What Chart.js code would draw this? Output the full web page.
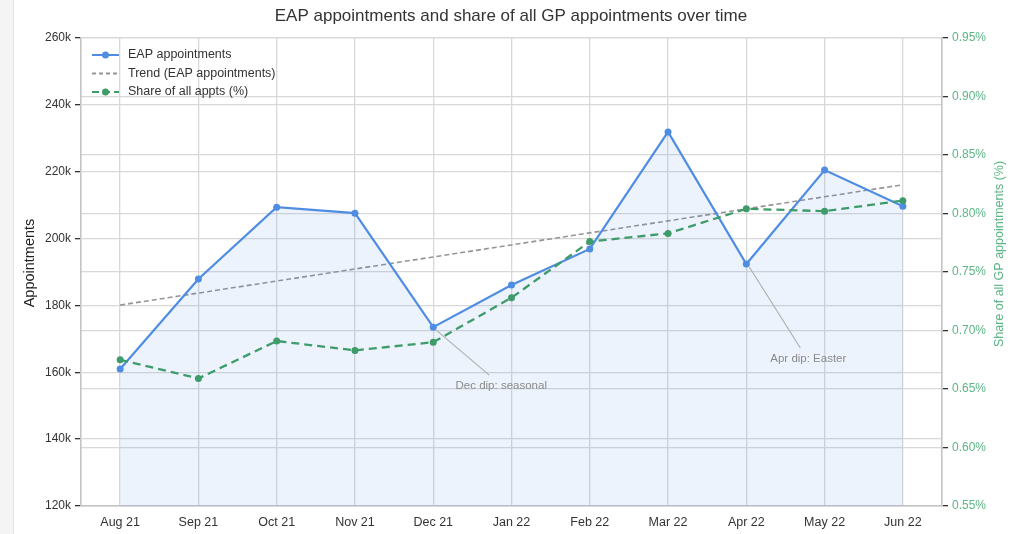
<!DOCTYPE html>
<html>
<head>
<meta charset="utf-8">
<script src="https://cdn.jsdelivr.net/npm/chart.js@4/dist/chart.umd.min.js"></script>
<style>
  html, body { margin: 0; padding: 0; background: #fff; }
  .strip { position: absolute; left: 0; top: 0; width: 13px; height: 534px; background: #f4f4f4; border-right: 1px solid #e6e6e6; }
  .wrap { position: absolute; left: 0; top: 0; width: 1024px; height: 534px; }
</style>
</head>
<body>
<div class="strip"></div>
<div class="wrap"><canvas id="c" width="1024" height="534"></canvas></div>
<script>
  // chart data
  const MONTHS = ['Aug 21','Sep 21','Oct 21','Nov 21','Dec 21','Jan 22','Feb 22','Mar 22','Apr 22','May 22','Jun 22'];
  const eapAppts = [161000, 187900, 209400, 207600, 173500, 186100, 196900, 231900, 192400, 220500, 209700];
  const eapTrend = [180100, 183700, 187300, 190900, 194500, 198100, 201700, 205300, 208900, 212500, 216100];
  const sharePct = [0.675, 0.659, 0.691, 0.683, 0.690, 0.728, 0.776, 0.783, 0.804, 0.802, 0.811];
  const notes = [
    { idx: 4, text: 'Dec dip: seasonal', dx: 56, dy: 48, tx: 68, ty: 59 },
    { idx: 8, text: 'Apr dip: Easter', dx: 54, dy: 84, tx: 62, ty: 95 }
  ];

  const FONT = '"Liberation Sans", Arial, sans-serif';
  const BLUE = '#4f8de3';
  const GREEN = '#3d9c6a';
  const LGREEN = '#5cb585';
  const GREY = '#959595';

  function vtext(ctx, text, x, y, rot, font, color) {
    ctx.save();
    ctx.translate(x, y);
    ctx.rotate(rot);
    ctx.font = font;
    ctx.fillStyle = color;
    ctx.textAlign = 'center';
    ctx.textBaseline = 'middle';
    ctx.fillText(text, 0, 0);
    ctx.restore();
  }

  const extras = {
    id: 'extras',
    afterDatasetsDraw(chart) {
      const ctx = chart.ctx;
      const x = chart.scales.x, y = chart.scales.y;
      ctx.save();
      // annotations
      notes.forEach(n => {
        const px = x.getPixelForValue(n.idx), py = y.getPixelForValue(eapAppts[n.idx]);
        ctx.strokeStyle = '#b0b0b0';
        ctx.lineWidth = 1.2;
        ctx.beginPath();
        ctx.moveTo(px + 3, py + 3);
        ctx.lineTo(px + n.dx, py + n.dy);
        ctx.stroke();
        ctx.fillStyle = '#8a8a8a';
        ctx.font = '11.5px ' + FONT;
        ctx.textAlign = 'center';
        ctx.textBaseline = 'middle';
        ctx.fillText(n.text, px + n.tx, py + n.ty);
      });
      // legend
      const items = [
        { label: 'EAP appointments', color: BLUE, dash: [], dot: true },
        { label: 'Trend (EAP appointments)', color: GREY, dash: [4, 3], dot: false },
        { label: 'Share of all appts (%)', color: GREEN, dash: [7, 4], dot: true }
      ];
      const lx = chart.chartArea.left + 11, ly = chart.chartArea.top + 17;
      items.forEach((it, i) => {
        const yy = ly + i * 18.5;
        ctx.strokeStyle = it.color;
        ctx.lineWidth = 2;
        ctx.setLineDash(it.dash);
        ctx.beginPath();
        ctx.moveTo(lx, yy);
        ctx.lineTo(lx + 27, yy);
        ctx.stroke();
        ctx.setLineDash([]);
        if (it.dot) {
          ctx.fillStyle = it.color;
          ctx.beginPath();
          ctx.arc(lx + 13.5, yy, 3.5, 0, Math.PI * 2);
          ctx.fill();
        }
        ctx.fillStyle = '#333';
        ctx.font = '12.5px ' + FONT;
        ctx.textAlign = 'left';
        ctx.textBaseline = 'middle';
        ctx.fillText(it.label, lx + 36, yy);
      });
      ctx.restore();
      // title and axis titles
      ctx.save();
      ctx.fillStyle = '#333';
      ctx.font = '17px ' + FONT;
      ctx.textAlign = 'center';
      ctx.textBaseline = 'middle';
      ctx.fillText('EAP appointments and share of all GP appointments over time', 511, 16);
      ctx.restore();
      vtext(ctx, 'Appointments', 30, 263, -Math.PI / 2, '14.5px ' + FONT, '#222');
      vtext(ctx, 'Share of all GP appointments (%)', 1000, 254, -Math.PI / 2, '12.5px ' + FONT, LGREEN);
    }
  };

  new Chart(document.getElementById('c'), {
    type: 'line',
    data: {
      labels: MONTHS,
      datasets: [
        { label: 'EAP appointments', data: eapAppts, yAxisID: 'y', borderColor: BLUE, backgroundColor: 'rgba(79,141,227,0.1)',
          fill: 'start', borderWidth: 2.2, pointRadius: 3.5, pointBackgroundColor: BLUE, pointBorderWidth: 0, tension: 0, order: 2 },
        { label: 'Trend (EAP appointments)', data: eapTrend, yAxisID: 'y', borderColor: GREY, borderDash: [5, 3],
          borderWidth: 1.6, pointRadius: 0, fill: false, order: 3 },
        { label: 'Share of all appts (%)', data: sharePct, yAxisID: 'y2', borderColor: GREEN, backgroundColor: GREEN,
          borderDash: [8, 5], borderWidth: 2.3, pointRadius: 3.5, pointBorderWidth: 0, fill: false, order: 1 }
      ]
    },
    options: {
      responsive: false,
      animation: false,
      layout: { padding: { top: 38, left: 0, right: 0, bottom: 0 } },
      plugins: { legend: { display: false }, title: { display: false }, tooltip: { enabled: false } },
      scales: {
        x: {
          offset: true,
          grid: { color: '#d8d8d8', lineWidth: 1.3, drawTicks: false, offset: false },
          border: { color: '#c4c4c4', width: 1.6 },
          ticks: { color: '#333', font: { family: FONT, size: 12.5 }, padding: 9, maxRotation: 0 },
          afterFit(s) { s.height = 28; }
        },
        y: {
          position: 'left', min: 120000, max: 260000,
          grid: { color: '#d8d8d8', lineWidth: 1.3, tickColor: '#333', tickLength: 6 },
          border: { color: '#c4c4c4', width: 1.6 },
          ticks: { stepSize: 20000, color: '#333', font: { family: FONT, size: 12 }, padding: 4,
            callback: v => (v / 1000) + 'k' },
          afterFit(s) { s.width = 81; }
        },
        y2: {
          position: 'right', min: 0.55, max: 0.95,
          grid: { color: '#d8d8d8', lineWidth: 1.3, tickColor: '#333', tickLength: 6 },
          border: { color: '#c4c4c4', width: 1.6 },
          ticks: { stepSize: 0.05, color: LGREEN, font: { family: FONT, size: 12 }, padding: 4,
            callback: v => v.toFixed(2) + '%' },
          afterFit(s) { s.width = 82; }
        }
      }
    },
    plugins: [extras]
  });
</script>
</body>
</html>
